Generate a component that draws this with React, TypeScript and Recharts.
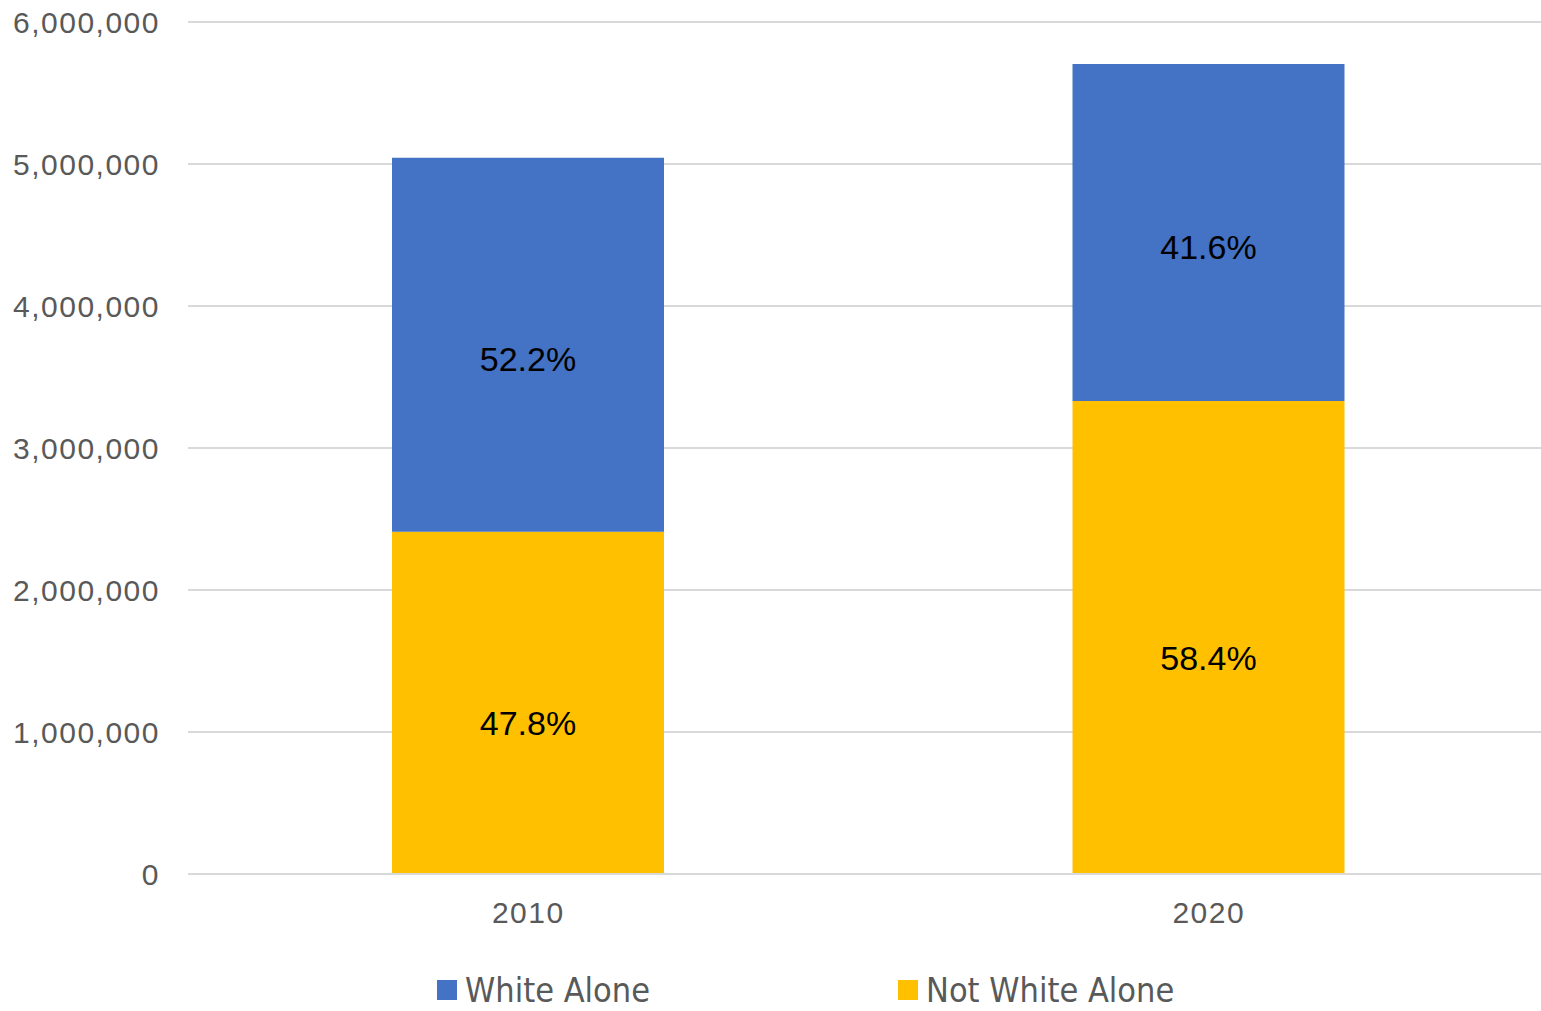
import React from 'react';
import { BarChart, Bar, XAxis, YAxis, CartesianGrid, Legend, LabelList } from 'recharts';

const years = ['2010', '2020'];
const whiteAlone = [2634000, 2373000];
const notWhiteAlone = [2410000, 3331000];
const yTicks = [0, 1000000, 2000000, 3000000, 4000000, 5000000, 6000000];

const BLUE = '#4472C4';
const GOLD = '#FFC000';
const GRAY = '#595959';

const data = years.map((y, i) => {
  const total = whiteAlone[i] + notWhiteAlone[i];
  return {
    year: y,
    white: whiteAlone[i],
    notWhite: notWhiteAlone[i],
    whitePct: ((whiteAlone[i] / total) * 100).toFixed(1) + '%',
    notWhitePct: ((notWhiteAlone[i] / total) * 100).toFixed(1) + '%',
  };
});

const legendItems = [
  { label: 'White Alone', color: BLUE },
  { label: 'Not White Alone', color: GOLD },
];

const LegendContent = () => (
  <div style={{ display: 'flex', justifyContent: 'flex-start', paddingLeft: 437, height: 42 }}>
    {legendItems.map((it, i) => (
      <div key={it.label} style={{ display: 'flex', alignItems: 'center', width: i === 0 ? 461 : 'auto', height: 42 }}>
        <div style={{ width: 20, height: 20, background: it.color, marginRight: 8 }} />
        <span
          style={{
            fontFamily: '"Liberation Sans Narrow", "DejaVu Sans Condensed", "Liberation Sans", sans-serif',
            fontSize: 34,
            color: GRAY,
            lineHeight: '42px',
            whiteSpace: 'nowrap',
          }}
        >
          {it.label}
        </span>
      </div>
    ))}
  </div>
);

const fmt = (v: number) => v.toLocaleString('en-US');

export default function App() {
  return (
    <div style={{ position: 'absolute', left: 0, top: 0, background: '#fff', width: 1541, height: 1011 }}>
      <BarChart
        width={1541}
        height={1011}
        data={data}
        margin={{ top: 22, right: -8, left: 0, bottom: 0 }}
        barSize={272}
      >
        <CartesianGrid vertical={false} stroke="#D9D9D9" strokeWidth={2} />
        <XAxis
          dataKey="year"
          height={95}
          axisLine={{ stroke: '#D9D9D9', strokeWidth: 2 }}
          tickLine={false}
          tickSize={0}
          tickMargin={28}
          tick={{ fill: GRAY, fontSize: 30, fontFamily: '"Liberation Sans", sans-serif', letterSpacing: 1.5 }}
        />
        <YAxis
          width={188}
          domain={[0, 6000000]}
          ticks={yTicks}
          axisLine={false}
          tickLine={false}
          tickSize={0}
          tickMargin={28}
          tickFormatter={fmt}
          tick={{ fill: GRAY, fontSize: 30, fontFamily: '"Liberation Sans", sans-serif', letterSpacing: 1.5 }}
        />
        <Legend verticalAlign="bottom" content={<LegendContent />} height={42} />
        <Bar dataKey="notWhite" name="Not White Alone" stackId="a" fill={GOLD} isAnimationActive={false}>
          <LabelList
            dataKey="notWhitePct"
            position="center"
            dy={20}
            fill="#000"
            fontSize={34}
            fontFamily='"Liberation Sans", sans-serif'
          />
        </Bar>
        <Bar dataKey="white" name="White Alone" stackId="a" fill={BLUE} isAnimationActive={false}>
          <LabelList
            dataKey="whitePct"
            position="center"
            dy={14}
            fill="#000"
            fontSize={34}
            fontFamily='"Liberation Sans", sans-serif'
          />
        </Bar>
      </BarChart>
    </div>
  );
}
